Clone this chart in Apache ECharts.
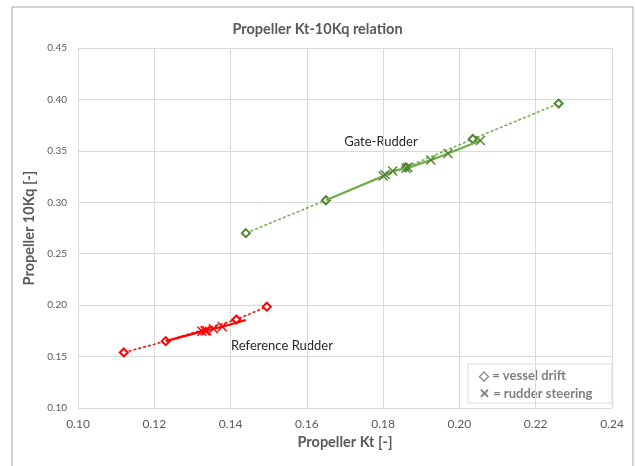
<!DOCTYPE html>
<html><head><meta charset="utf-8">
<script src="https://cdn.jsdelivr.net/npm/echarts@6/dist/echarts.min.js"></script>
<style>html,body{margin:0;padding:0;background:#fff}#c{width:635px;height:466px}</style>
</head><body><div id="c"></div>
<script>
// Gate-Rudder
const gateDriftKt = [0.144, 0.165, 0.186, 0.2035, 0.226];
const gateDriftKq = [0.270, 0.302, 0.334, 0.3615, 0.396];
const gateSteerKt = [0.165, 0.180, 0.1805, 0.1825, 0.186, 0.1865, 0.1925, 0.197, 0.2055];
const gateSteerKq = [0.302, 0.3255, 0.327, 0.3305, 0.333, 0.334, 0.341, 0.3475, 0.360];
// Reference Rudder
const refDriftKt = [0.112, 0.123, 0.1415, 0.1495];
const refDriftKq = [0.154, 0.165, 0.186, 0.1985];
const refSteerKt = [0.123, 0.1325, 0.1333, 0.1337, 0.1355, 0.1378, 0.144];
const refSteerKq = [0.165, 0.1745, 0.1750, 0.1752, 0.1770, 0.1790, 0.1855];
// marker shown? (first/last points of steering lines are line ends only)
const gateSteerMark = [false, true, true, true, true, true, true, true, true];
const refSteerMark = [false, true, true, true, true, true, false];
const xTicks = {min: 0.10, max: 0.24, interval: 0.02};
const yTicks = {min: 0.10, max: 0.45, interval: 0.05};

const FONT = 'Lato, "Open Sans", sans-serif';
const X_SYM = 'path://M1,0 L5,4 L9,0 L10,1 L6,5 L10,9 L9,10 L5,6 L1,10 L0,9 L4,5 L0,1 Z';
const zip = (a, b) => a.map((v, i) => [v, b[i]]);
function steer(kt, kq, mark) {
  return kt.map((v, i) => ({value: [v, kq[i]], symbol: mark[i] ? X_SYM : 'none'}));
}
const GREEN = '#70ad47', GREEN_D = '#548235', RED = '#ff0000';

const chart = echarts.init(document.getElementById('c'), null, {renderer: 'canvas'});
chart.setOption({
  animation: false,
  textStyle: {fontFamily: FONT},
  title: {text: 'Propeller Kt-10Kq relation', left: 'center', top: 17,
    textStyle: {fontFamily: FONT, fontSize: 14.5, fontWeight: 'bold', color: '#595959'}},
  grid: {left: 78, right: 23, top: 48, bottom: 58, containLabel: false},
  xAxis: {type: 'value', min: xTicks.min, max: xTicks.max, interval: xTicks.interval,
    name: 'Propeller Kt [-]', nameLocation: 'middle', nameGap: 24,
    nameTextStyle: {fontFamily: FONT, fontSize: 14.5, fontWeight: 'bold', color: '#595959'},
    axisLine: {show: false}, axisTick: {show: false},
    axisLabel: {fontFamily: FONT, fontSize: 12, color: '#595959', margin: 10, formatter: v => v.toFixed(2)},
    splitLine: {show: true, lineStyle: {color: '#d9d9d9', width: 1}}},
  yAxis: {type: 'value', min: yTicks.min, max: yTicks.max, interval: yTicks.interval,
    name: 'Propeller 10Kq [-]', nameLocation: 'middle', nameGap: 37,
    nameTextStyle: {fontFamily: FONT, fontSize: 14.5, fontWeight: 'bold', color: '#595959'},
    axisLine: {show: false}, axisTick: {show: false},
    axisLabel: {fontFamily: FONT, fontSize: 10, color: '#595959', margin: 11, formatter: v => v.toFixed(2)},
    splitLine: {show: true, lineStyle: {color: '#d9d9d9', width: 1}}},
  series: [
    {type: 'line', name: 'Gate drift', data: zip(gateDriftKt, gateDriftKq),
      symbol: 'emptyDiamond', symbolSize: 8,
      lineStyle: {color: GREEN, width: 1.5, type: [3, 2]},
      itemStyle: {color: GREEN_D, borderColor: GREEN_D, borderWidth: 1}, z: 2},
    {type: 'line', name: 'Gate steering', data: steer(gateSteerKt, gateSteerKq, gateSteerMark),
      symbolSize: 10, showAllSymbol: true,
      lineStyle: {color: GREEN, width: 2.2},
      itemStyle: {color: GREEN_D}, z: 3},
    {type: 'line', name: 'Ref drift', data: zip(refDriftKt, refDriftKq),
      symbol: 'emptyDiamond', symbolSize: 8,
      lineStyle: {color: RED, width: 1.5, type: [3, 2]},
      itemStyle: {color: RED, borderColor: RED, borderWidth: 1}, z: 2},
    {type: 'line', name: 'Ref steering', data: steer(refSteerKt, refSteerKq, refSteerMark),
      symbolSize: 10, showAllSymbol: true,
      lineStyle: {color: RED, width: 2.2},
      itemStyle: {color: RED}, z: 3}
  ],
  graphic: [
    {type: 'rect', shape: {x: 12, y: 7, width: 621, height: 470}, silent: true, z: -10,
      style: {fill: 'none', stroke: '#a6a6a6', lineWidth: 1}},
    {type: 'rect', shape: {x: 468, y: 364, width: 144, height: 39}, silent: true,
      style: {fill: 'none', stroke: '#d9d9d9', lineWidth: 1}},
    {type: 'text', x: 381, y: 142, silent: true,
      style: {text: 'Gate-Rudder', font: '13px ' + FONT, fill: '#262626', align: 'center', verticalAlign: 'middle'}},
    {type: 'text', x: 282, y: 346, silent: true,
      style: {text: 'Reference Rudder', font: '13px ' + FONT, fill: '#262626', align: 'center', verticalAlign: 'middle'}},
    {type: 'text', x: 479, y: 376, silent: true,
      style: {text: '\u25C7 = vessel drift', font: 'bold 13px ' + FONT, fill: '#7f7f7f', align: 'left', verticalAlign: 'middle'}},
    {type: 'text', x: 479, y: 394, silent: true,
      style: {text: '\u2715 = rudder steering', font: 'bold 13px ' + FONT, fill: '#7f7f7f', align: 'left', verticalAlign: 'middle'}}
  ]
});
</script></body></html>
